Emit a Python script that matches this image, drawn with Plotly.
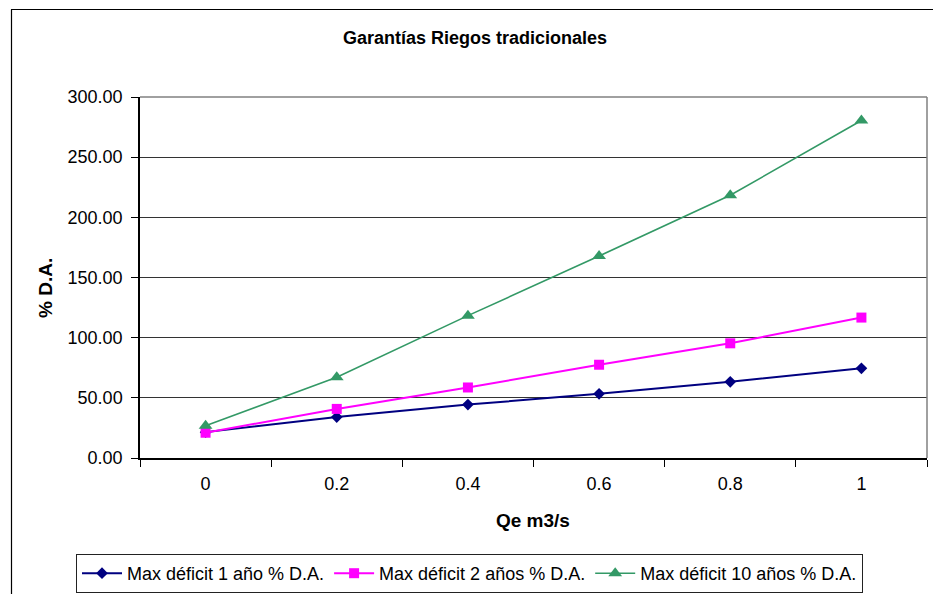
import plotly.graph_objects as go

categories = ["0", "0.2", "0.4", "0.6", "0.8", "1"]
deficit_1 = [21.5, 34.0, 44.4, 53.3, 63.3, 74.5]
deficit_2 = [21.0, 40.8, 58.6, 77.5, 95.3, 116.7]
deficit_10 = [26.7, 67.2, 118.3, 167.8, 218.3, 280.5]
names = ["Max déficit 1 año % D.A.", "Max déficit 2 años % D.A.", "Max déficit 10 años % D.A."]

W, H = 933, 594
L, R, T, B = 140, 927, 97, 458
font = "Arial, 'Liberation Sans', sans-serif"

def px_x(p):
    return (p - L) / (R - L)

def px_y(p):
    return (B - p) / (B - T)

fig = go.Figure()
fig.add_trace(go.Scatter(x=categories, y=deficit_1, name=names[0], mode="lines+markers",
                         line=dict(color="#000080", width=2),
                         marker=dict(symbol="diamond", size=9, color="#000080")))
fig.add_trace(go.Scatter(x=categories, y=deficit_2, name=names[1], mode="lines+markers",
                         line=dict(color="#FF00FF", width=2),
                         marker=dict(symbol="square", size=10, color="#FF00FF")))
fig.add_trace(go.Scatter(x=categories, y=deficit_10, name=names[2], mode="lines+markers",
                         line=dict(color="#339966", width=1.6),
                         marker=dict(symbol="triangle-up", size=12, color="#339966")))

fig.update_layout(
    width=W, height=H,
    margin=dict(l=L, r=W - R, t=T, b=H - B, pad=0, autoexpand=False),
    paper_bgcolor="white", plot_bgcolor="white",
    font=dict(family=font, size=18, color="black"),
    showlegend=True,
    legend=dict(orientation="h", x=px_x(76), y=px_y(554), xanchor="left", yanchor="top",
                bordercolor="#222222", borderwidth=1, font=dict(size=18, family=font),
                itemwidth=40, tracegroupgap=0, entrywidthmode="pixels"),
    xaxis=dict(type="category", tickson="boundaries", ticks="outside", ticklen=7,
               tickcolor="black", showline=True, linecolor="black", linewidth=1.5,
               showgrid=False, zeroline=False, range=[-0.5, 5.5], ticklabelstandoff=9,
               tickfont=dict(size=18), fixedrange=True),
    yaxis=dict(range=[0, 300], dtick=50, tickformat=".2f", ticks="outside", ticklen=7,
               tickcolor="black", showline=True, linecolor="black", linewidth=1.5,
               showgrid=True, gridcolor="#333333", gridwidth=1, zeroline=False,
               ticklabelstandoff=5, tickfont=dict(size=18), fixedrange=True),
)

# plot-area border (top and right, gray)
fig.add_shape(type="line", xref="paper", yref="paper", x0=0, x1=1, y0=1, y1=1,
              line=dict(color="#808080", width=1.5))
fig.add_shape(type="line", xref="paper", yref="paper", x0=1, x1=1, y0=0, y1=1,
              line=dict(color="#808080", width=1.5))
# outer chart border (left and top)
fig.add_shape(type="line", xref="paper", yref="paper", x0=px_x(11), x1=px_x(940),
              y0=px_y(9.5), y1=px_y(9.5), line=dict(color="black", width=1.2))
fig.add_shape(type="line", xref="paper", yref="paper", x0=px_x(11.5), x1=px_x(11.5),
              y0=px_y(9.5), y1=px_y(600), line=dict(color="black", width=1.2))

fig.add_annotation(text="<b>Garantías Riegos tradicionales</b>", xref="paper", yref="paper",
                   x=px_x(475), y=px_y(38), showarrow=False, font=dict(size=18, family=font),
                   xanchor="center", yanchor="middle")
fig.add_annotation(text="<b>% D.A.</b>", xref="paper", yref="paper", textangle=-90,
                   x=px_x(45), y=px_y(288), showarrow=False, font=dict(size=19, family=font),
                   xanchor="center", yanchor="middle")
fig.add_annotation(text="<b>Qe m3/s</b>", xref="paper", yref="paper",
                   x=px_x(533), y=px_y(520), showarrow=False, font=dict(size=19, family=font),
                   xanchor="center", yanchor="middle")

fig.write_html("out.html", config={"displayModeBar": False},
               post_script="document.body.style.margin='0px';")
